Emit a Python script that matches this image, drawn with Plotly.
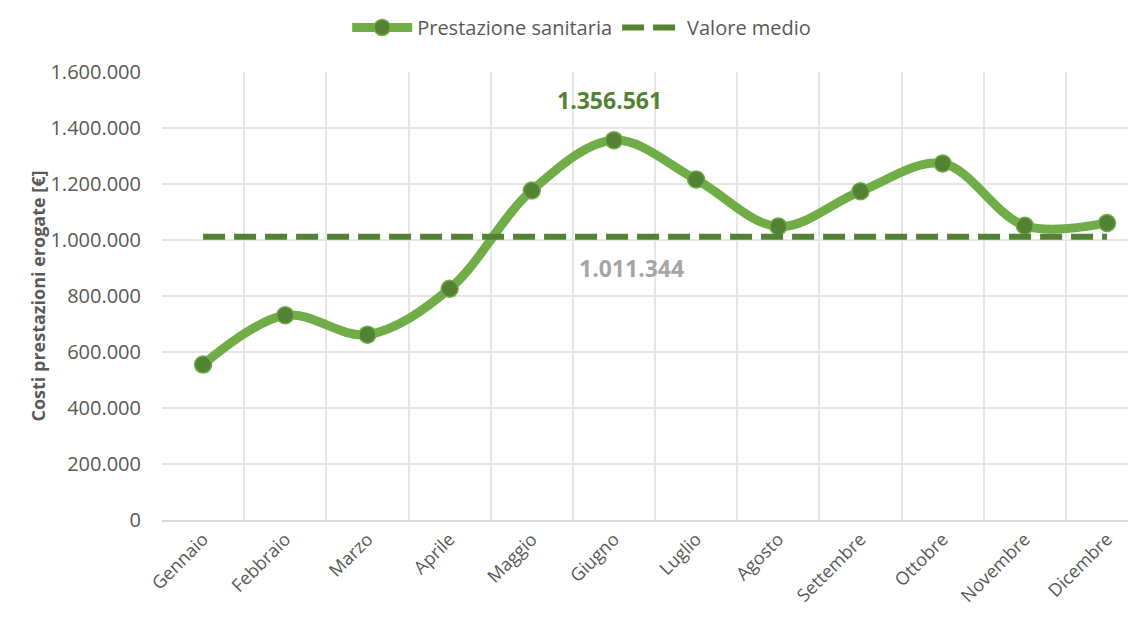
import plotly.graph_objects as go

months = ["Gennaio", "Febbraio", "Marzo", "Aprile", "Maggio", "Giugno",
          "Luglio", "Agosto", "Settembre", "Ottobre", "Novembre", "Dicembre"]
costs = [555000, 731000, 662000, 826000, 1177000, 1356561,
         1216000, 1048000, 1174000, 1273000, 1051000, 1061000]
mean_value = 1011344
mean_values = [mean_value] * len(months)
y_ticks = [0, 200000, 400000, 600000, 800000, 1000000, 1200000, 1400000, 1600000]
y_tick_labels = ["0", "200.000", "400.000", "600.000", "800.000",
                 "1.000.000", "1.200.000", "1.400.000", "1.600.000"]

FONT = "Open Sans"
GREY = "#595959"
LIGHT = "#70AD47"
DARK = "#548235"

fig = go.Figure()
fig.add_trace(go.Scatter(
    x=months, y=costs, name="Prestazione sanitaria",
    mode="lines+markers",
    line=dict(color=LIGHT, width=9, shape="spline", smoothing=1.0),
    marker=dict(size=17, color=DARK, line=dict(color=LIGHT, width=1.5)),
))
fig.add_trace(go.Scatter(
    x=months, y=mean_values, name="Valore medio",
    mode="lines",
    line=dict(color=DARK, width=6, dash="22px,9px"),
))

fig.add_annotation(x="Giugno", y=max(costs), text="<b>1.356.561</b>",
                   showarrow=False, yshift=40, xshift=-4,
                   font=dict(family=FONT, size=23, color=DARK))
fig.add_annotation(x="Giugno", y=mean_value, text="<b>1.011.344</b>",
                   showarrow=False, yshift=-31, xshift=18,
                   font=dict(family=FONT, size=23, color="#A5A5A5"))

fig.update_layout(
    width=1136, height=622,
    margin=dict(l=154, r=0, t=64, b=110),
    paper_bgcolor="white", plot_bgcolor="white",
    font=dict(family=FONT, color=GREY),
    showlegend=True,
    legend=dict(orientation="h", xref="container", yref="container",
                x=0.505, xanchor="center", y=1.0, yanchor="top",
                font=dict(family=FONT, size=20, color=GREY),
                itemwidth=60),
    xaxis=dict(
        type="category", range=[-0.5, 11.45],
        tickson="boundaries", showgrid=True, gridcolor="#E6E6E6", gridwidth=1.5,
        showline=True, linecolor="#D9D9D9", linewidth=1.5,
        ticks="", tickangle=-45,
        tickfont=dict(family=FONT, size=18, color=GREY),
        zeroline=False,
    ),
    yaxis=dict(
        range=[0, 1600000], tickvals=y_ticks, ticktext=y_tick_labels,
        showgrid=True, gridcolor="#E6E6E6", gridwidth=1.5,
        zeroline=False, ticks="", ticklen=0, ticklabelstandoff=20,
        tickfont=dict(family=FONT, size=20, color=GREY),
        title=dict(text="<b>Costi prestazioni erogate [€]</b>",
                   font=dict(family=FONT, size=18, color=GREY), standoff=0),
    ),
)

fig.write_html("out.html")
